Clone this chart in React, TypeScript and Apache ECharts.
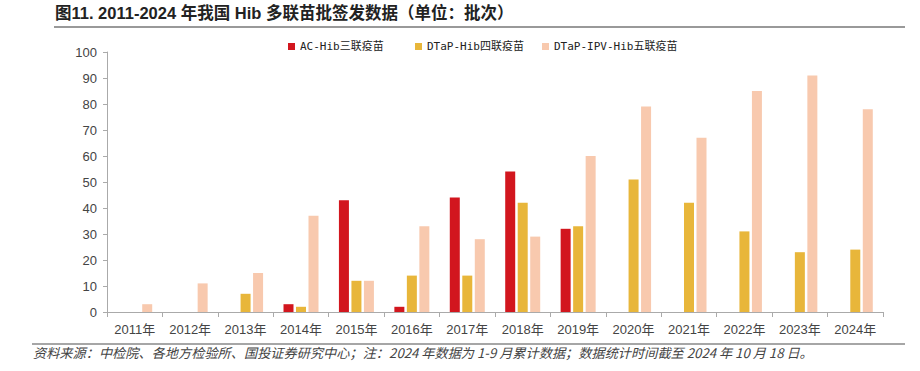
import React, { useEffect, useRef } from "react";
import * as echarts from "echarts";

const categories = ["2011年", "2012年", "2013年", "2014年", "2015年", "2016年", "2017年", "2018年", "2019年", "2020年", "2021年", "2022年", "2023年", "2024年"];
const acHib: (number | null)[] = [null, null, null, 3, 43, 2, 44, 54, 32, null, null, null, null, null];
const dtapHib: (number | null)[] = [null, null, 7, 2, 12, 14, 14, 42, 33, 51, 42, 31, 23, 24];
const dtapIpvHib: (number | null)[] = [3, 11, 15, 37, 12, 33, 28, 29, 60, 79, 67, 85, 91, 78];
const seriesNames = ["AC-Hib三联疫苗", "DTaP-Hib四联疫苗", "DTaP-IPV-Hib五联疫苗"];
const titleText = "图11. 2011-2024 年我国 Hib 多联苗批签发数据（单位：批次）";
const noteText = "资料来源：中检院、各地方检验所、国投证券研究中心；注：2024 年数据为 1-9 月累计数据；数据统计时间截至 2024 年 10 月 18 日。";

const colors = ["#D2161E", "#E8B63A", "#F8C9AE"];
const legendLefts = [283, 410, 537];

export default function App() {
  const ref = useRef<HTMLDivElement>(null);
  useEffect(() => {
    if (!ref.current) return;
    const chart = echarts.init(ref.current, undefined, { renderer: "svg" });
    const font = "'Noto Sans CJK SC', 'Noto Sans', sans-serif";
    const latinFont = "'Liberation Sans', 'Noto Sans CJK SC', sans-serif";
    const legendFont = "'DejaVu Sans Mono', 'Noto Sans CJK SC', monospace";
    chart.setOption({
      animation: false,
      textStyle: { fontFamily: font },
      grid: { left: 107, right: 37, top: 52, bottom: 59, containLabel: false },
      legend: seriesNames.map((n, i) => ({
        left: legendLefts[i],
        top: 36,
        itemWidth: 7,
        itemHeight: 7,
        itemGap: 5,
        icon: "rect",
        textStyle: { fontSize: 11, color: "#222", fontFamily: legendFont },
        data: [n],
      })),
      xAxis: {
        type: "category",
        data: categories,
        axisLine: { lineStyle: { color: "#aaa", width: 1 } },
        axisTick: { show: true, length: 5, lineStyle: { color: "#aaa" } },
        axisLabel: { fontSize: 13, color: "#444", margin: 11, fontFamily: latinFont },
      },
      yAxis: {
        type: "value",
        min: 0,
        max: 100,
        interval: 10,
        splitLine: { show: false },
        axisLine: { show: true, lineStyle: { color: "#aaa" } },
        axisTick: { show: true, length: 4, lineStyle: { color: "#aaa" } },
        axisLabel: { fontSize: 13, color: "#444", margin: 10, fontFamily: latinFont },
      },
      series: [acHib, dtapHib, dtapIpvHib].map((d, i) => ({
        name: seriesNames[i],
        type: "bar",
        data: d,
        barWidth: 10,
        barGap: "25%",
        itemStyle: { color: colors[i] },
      })),
      graphic: [
        {
          type: "text",
          left: 55,
          top: 5,
          style: { text: titleText, fontSize: 16.5, fontWeight: "bold", fill: "#222", fontFamily: latinFont },
        },
        {
          type: "line",
          shape: { x1: 54, y1: 27, x2: 905, y2: 27 },
          style: { stroke: "#999", lineWidth: 2 },
        },
        {
          type: "line",
          shape: { x1: 32, y1: 344, x2: 905, y2: 344 },
          style: { stroke: "#888", lineWidth: 1.5 },
        },
        {
          type: "text",
          left: 33,
          top: 346,
          style: { text: noteText, fontSize: 13.2, fontStyle: "italic", fill: "#444", fontFamily: font },
        },
      ],
    });
    return () => chart.dispose();
  }, []);
  return <div ref={ref} style={{ width: 920, height: 371, position: "absolute", left: 0, top: 0 }} />;
}
